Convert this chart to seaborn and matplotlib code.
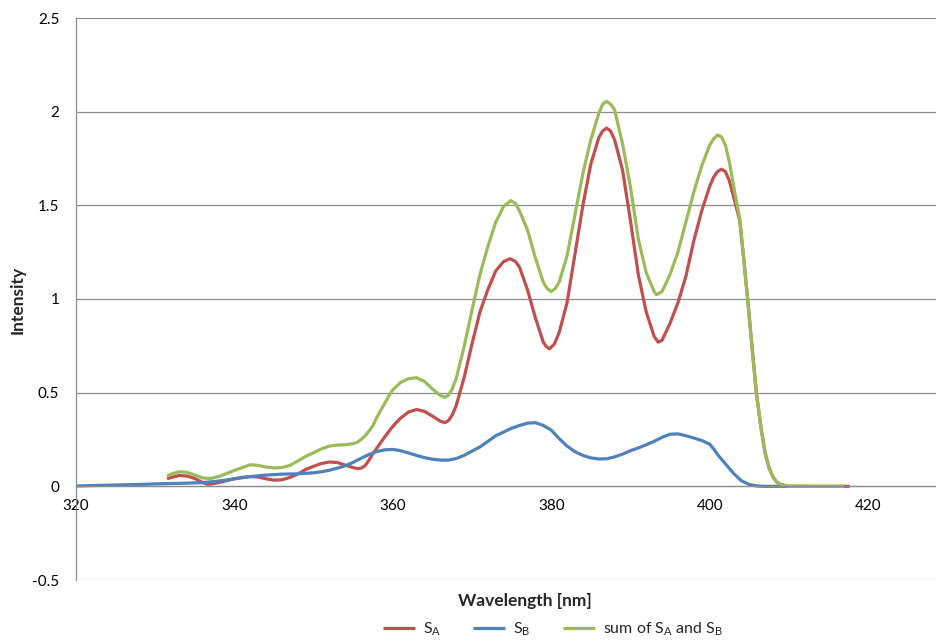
import matplotlib
matplotlib.use("Agg")
import matplotlib.pyplot as plt
import seaborn as sns
import pandas as pd

# ---- data ----
wl_a = [331.5, 332, 333, 334, 335, 336, 336.5, 337, 338, 339,
        340, 341, 342, 343, 344, 345, 346, 347, 348, 349,
        350, 351, 352, 353, 354, 355, 355.5, 356, 356.5, 357, 357.5, 358, 359,
        360, 361, 362, 363, 364, 365, 366, 366.6, 367, 367.5, 368, 369,
        370, 371, 372, 373, 374, 374.8, 375.5, 376, 377, 378, 379, 379.4, 379.8, 380.4,
        381, 382, 383, 384, 385, 386, 386.5, 387, 387.5, 388, 389,
        390, 391, 392, 393, 393.5, 394, 395, 396, 397, 398, 399,
        400, 400.5, 401, 401.5, 402, 402.5, 403, 403.8, 404.3, 404.8, 405.3, 405.9,
        406.5, 407, 407.5, 408, 408.5, 409, 410, 412, 414, 416, 417.7]
s_a = [0.040, 0.047, 0.058, 0.055, 0.042, 0.020, 0.012, 0.012, 0.020, 0.030,
       0.040, 0.048, 0.052, 0.050, 0.040, 0.033, 0.035, 0.047, 0.066, 0.090,
       0.107, 0.122, 0.130, 0.127, 0.113, 0.100, 0.095, 0.097, 0.110, 0.140, 0.175, 0.205, 0.265,
       0.320, 0.365, 0.397, 0.410, 0.400, 0.375, 0.348, 0.340, 0.350, 0.380, 0.430, 0.580,
       0.760, 0.930, 1.050, 1.150, 1.200, 1.215, 1.200, 1.170, 1.050, 0.900, 0.770, 0.745, 0.734, 0.760,
       0.820, 0.980, 1.240, 1.500, 1.720, 1.860, 1.897, 1.912, 1.897, 1.850, 1.690,
       1.420, 1.130, 0.930, 0.800, 0.770, 0.780, 0.870, 0.980, 1.120, 1.310, 1.470,
       1.600, 1.650, 1.680, 1.693, 1.680, 1.630, 1.550, 1.420, 1.220, 1.000, 0.770, 0.500,
       0.310, 0.180, 0.100, 0.050, 0.022, 0.010, 0.000, 0.000, 0.000, 0.000, 0.000]

wl_b = [320, 322, 325, 328, 330, 332, 334, 336, 338,
        340, 342, 344, 346, 348, 350, 351, 352, 353, 354, 355, 356, 357, 358, 359,
        360, 361, 362, 363, 364, 365, 366, 367, 368, 369,
        370, 371, 372, 373, 374, 375, 376, 377, 378, 379,
        380, 381, 382, 383, 384, 385, 386, 387, 388, 389,
        390, 391, 392, 393, 394, 395, 396, 397, 398, 399,
        400, 400.5, 401, 402, 403, 404, 405, 406, 407, 410, 412]
s_b = [0.002, 0.004, 0.007, 0.010, 0.013, 0.015, 0.017, 0.020, 0.028,
       0.040, 0.052, 0.060, 0.065, 0.067, 0.072, 0.078, 0.086, 0.097, 0.110, 0.128, 0.150, 0.170, 0.186, 0.195,
       0.197, 0.190, 0.178, 0.165, 0.153, 0.145, 0.140, 0.140, 0.148, 0.165,
       0.188, 0.210, 0.240, 0.270, 0.290, 0.310, 0.325, 0.337, 0.340, 0.325,
       0.300, 0.255, 0.215, 0.185, 0.165, 0.152, 0.146, 0.147, 0.157, 0.172,
       0.190, 0.205, 0.222, 0.240, 0.262, 0.278, 0.280, 0.270, 0.258, 0.245,
       0.225, 0.200, 0.170, 0.120, 0.070, 0.030, 0.010, 0.002, 0.000, 0.000, 0.000]

wl_sum = [331.5, 332, 333, 334, 335, 336, 337, 338, 339,
          340, 341, 342, 343, 344, 345, 346, 347, 348, 349,
          350, 351, 352, 353, 354, 355, 355.5, 356, 356.5, 357, 357.5, 358, 359, 359.6,
          360, 361, 362, 363, 364, 365, 366, 366.6, 367, 367.5, 368, 369,
          370, 371, 372, 373, 374, 374.9, 375.5, 376, 377, 378, 379, 379.5, 380, 380.5,
          381, 382, 383, 384, 385, 386, 386.5, 387, 387.5, 388, 389,
          390, 391, 392, 393, 393.3, 394, 395, 396, 397, 398, 399,
          400, 400.5, 401, 401.5, 402, 402.5, 403, 403.8, 404.3, 404.8, 405.3, 405.9,
          406.5, 407, 407.5, 408, 408.5, 409, 410, 412, 414, 417]
s_sum = [0.055, 0.065, 0.078, 0.075, 0.060, 0.045, 0.042, 0.052, 0.068,
         0.085, 0.100, 0.115, 0.112, 0.103, 0.098, 0.100, 0.112, 0.135, 0.160,
         0.180, 0.200, 0.215, 0.220, 0.222, 0.228, 0.235, 0.250, 0.270, 0.295, 0.325, 0.370, 0.445, 0.490,
         0.515, 0.555, 0.575, 0.580, 0.560, 0.520, 0.485, 0.475, 0.485, 0.520, 0.575, 0.745,
         0.940, 1.130, 1.280, 1.410, 1.495, 1.525, 1.510, 1.470, 1.370, 1.220, 1.090, 1.055, 1.040, 1.055,
         1.090, 1.230, 1.450, 1.670, 1.850, 1.990, 2.040, 2.055, 2.040, 2.010, 1.830,
         1.600, 1.320, 1.140, 1.040, 1.023, 1.040, 1.130, 1.250, 1.410, 1.570, 1.710,
         1.820, 1.855, 1.875, 1.865, 1.820, 1.730, 1.610, 1.430, 1.220, 1.000, 0.770, 0.500,
         0.310, 0.180, 0.100, 0.050, 0.022, 0.010, 0.000, 0.000, 0.000, 0.000]

labels = [r"S$_\mathrm{A}$", r"S$_\mathrm{B}$", r"sum of S$_\mathrm{A}$ and S$_\mathrm{B}$"]
colors = ["#C0504D", "#4F81BD", "#9BBB59"]
x_ticks = [320, 340, 360, 380, 400, 420]
y_ticks = [-0.5, 0, 0.5, 1, 1.5, 2, 2.5]
y_tick_labels = ["-0.5", "0", "0.5", "1", "1.5", "2", "2.5"]

df = pd.concat([
    pd.DataFrame({"wl": wl_a, "val": s_a, "series": labels[0]}),
    pd.DataFrame({"wl": wl_b, "val": s_b, "series": labels[1]}),
    pd.DataFrame({"wl": wl_sum, "val": s_sum, "series": labels[2]}),
], ignore_index=True)

sns.set_style("white")
plt.rcParams["font.family"] = ["Lato", "DejaVu Sans"]
plt.rcParams["mathtext.fontset"] = "custom"
plt.rcParams["mathtext.rm"] = "Lato"
plt.rcParams["mathtext.it"] = "Lato:italic"
plt.rcParams["mathtext.bf"] = "Lato:bold"

fig = plt.figure(figsize=(9.37, 6.41), dpi=100)
ax = fig.add_axes([76 / 937, 61 / 641, 861 / 937, 562 / 641])

sns.lineplot(data=df, x="wl", y="val", hue="series", hue_order=labels,
             palette=colors, estimator=None, sort=True, linewidth=2.3,
             ax=ax, legend=True)
for ln in ax.get_lines():
    ln.set_solid_joinstyle("round")
    ln.set_solid_capstyle("butt")

ax.set_xlim(320, 320 + 861 / 7.92)
ax.set_ylim(-0.5, 2.5)
ax.set_xticks(x_ticks)
ax.set_xticklabels([str(t) for t in x_ticks])
ax.set_yticks(y_ticks)
ax.set_yticklabels(y_tick_labels)

grid_c = "#8C8C8C"
ax.yaxis.grid(True, color=grid_c, linewidth=0.9)
ax.xaxis.grid(False)
ax.set_axisbelow(True)
for s in ["top", "right"]:
    ax.spines[s].set_visible(False)
ax.spines["left"].set_color(grid_c)
ax.spines["left"].set_linewidth(0.9)
ax.spines["bottom"].set_color(grid_c)
ax.spines["bottom"].set_linewidth(0.9)
ax.spines["bottom"].set_position(("data", 0))
ax.tick_params(axis="both", direction="out", length=4, width=0.9, color=grid_c,
               labelsize=11, labelcolor="#000000")
ax.tick_params(axis="x", pad=5)
ax.tick_params(axis="y", pad=8)

ax.set_xlabel("")
ax.set_ylabel("")
fig.text(525 / 937, 1 - 601 / 641, "Wavelength [nm]", ha="center", va="center",
         fontsize=12.5, fontweight="bold")
fig.text(18 / 937, 1 - 300 / 641, "Intensity", ha="center", va="center",
         rotation=90, fontsize=12.5, fontweight="bold")

handles, lbls = ax.get_legend_handles_labels()
ax.legend(handles, lbls, loc="center", bbox_to_anchor=(553 / 937, 1 - 629 / 641),
          bbox_transform=fig.transFigure, ncol=3, frameon=False, fontsize=11.5,
          handlelength=2.0, columnspacing=2.0, handletextpad=0.5)

fig.savefig("out.png", dpi=100)
